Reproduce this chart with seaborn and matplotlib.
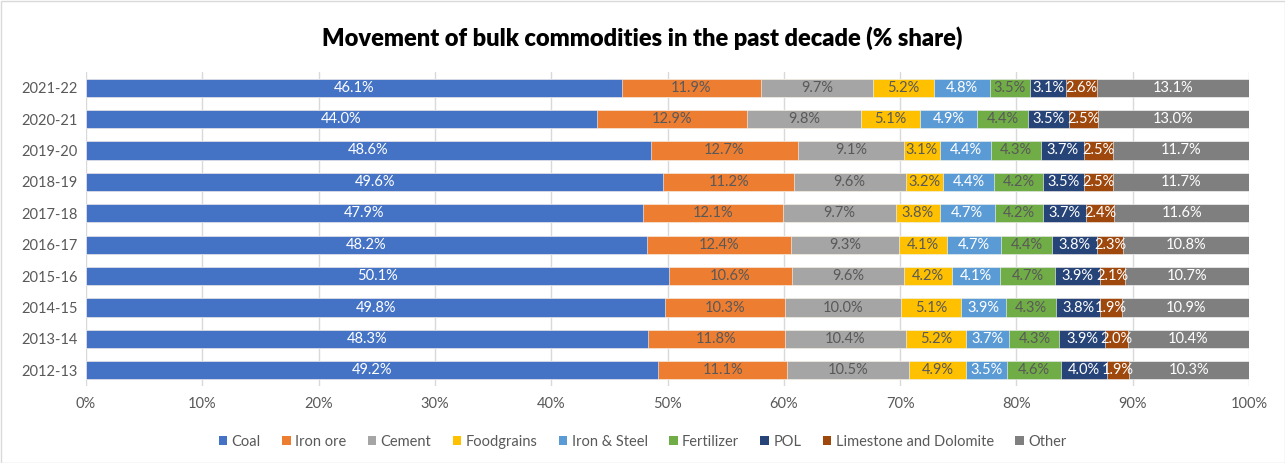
import numpy as np
import pandas as pd
import matplotlib
matplotlib.use("Agg")
import matplotlib.pyplot as plt
import seaborn as sns
from matplotlib.patches import Rectangle, Patch

years = ["2021-22", "2020-21", "2019-20", "2018-19", "2017-18",
         "2016-17", "2015-16", "2014-15", "2013-14", "2012-13"]
series = ["Coal", "Iron ore", "Cement", "Foodgrains", "Iron & Steel",
          "Fertilizer", "POL", "Limestone and Dolomite", "Other"]
coal = [46.1, 44.0, 48.6, 49.6, 47.9, 48.2, 50.1, 49.8, 48.3, 49.2]
iron_ore = [11.9, 12.9, 12.7, 11.2, 12.1, 12.4, 10.6, 10.3, 11.8, 11.1]
cement = [9.7, 9.8, 9.1, 9.6, 9.7, 9.3, 9.6, 10.0, 10.4, 10.5]
foodgrains = [5.2, 5.1, 3.1, 3.2, 3.8, 4.1, 4.2, 5.1, 5.2, 4.9]
iron_steel = [4.8, 4.9, 4.4, 4.4, 4.7, 4.7, 4.1, 3.9, 3.7, 3.5]
fertilizer = [3.5, 4.4, 4.3, 4.2, 4.2, 4.4, 4.7, 4.3, 4.3, 4.6]
pol = [3.1, 3.5, 3.7, 3.5, 3.7, 3.8, 3.9, 3.8, 3.9, 4.0]
limestone = [2.6, 2.5, 2.5, 2.5, 2.4, 2.3, 2.1, 1.9, 2.0, 1.9]
other = [13.1, 13.0, 11.7, 11.7, 11.6, 10.8, 10.7, 10.9, 10.4, 10.3]

colors = ["#4472C4", "#ED7D31", "#A5A5A5", "#FFC000", "#5B9BD5",
          "#70AD47", "#264478", "#9E480E", "#7F7F7F"]
label_colors = ["white", "#595959", "#595959", "#595959", "white",
                "#595959", "white", "white", "white"]

values = [coal, iron_ore, cement, foodgrains, iron_steel, fertilizer, pol, limestone, other]
df = pd.DataFrame({s: v for s, v in zip(series, values)}, index=years)
cum = df.cumsum(axis=1)
total = df.sum(axis=1)

sns.set_theme(style="white")
plt.rcParams['font.family'] = ['Lato', 'DejaVu Sans']

fig = plt.figure(figsize=(12.85, 4.63), dpi=100)
ax = fig.add_axes([86/1285, 1 - 386/463, (1249-86)/1285, (386-72)/463])

for i in range(len(series) - 1, -1, -1):
    s = series[i]
    d = pd.DataFrame({"year": years, "end": (cum[s] / total * 100).values})
    sns.barplot(data=d, x="end", y="year", orient="h", color=colors[i],
                width=0.58, ax=ax, saturation=1, order=years,
                edgecolor="white", linewidth=0.4)

for j, y in enumerate(years):
    start = 0
    for i, s in enumerate(series):
        v = df.loc[y, s] / total[y] * 100
        ax.text(start + v / 2, j, f"{df.loc[y, s]:.1f}%", ha="center", va="center",
                fontsize=10.5, color=label_colors[i])
        start += v

ax.set_xlim(0, 100)
ax.set_ylim(len(years) - 0.5, -0.5)
ax.set_xticks(np.arange(0, 101, 10))
ax.set_xticklabels([f"{t}%" for t in range(0, 101, 10)], color="#595959", fontsize=10.5)
ax.tick_params(axis="y", colors="#595959", labelsize=10.5, length=0, pad=6)
ax.tick_params(axis="x", length=0, pad=8)
ax.set_xlabel("")
ax.set_ylabel("")
ax.grid(axis="x", color="#D9D9D9", linewidth=1)
ax.set_axisbelow(True)
for sp in ax.spines.values():
    sp.set_visible(False)

fig.text(0.5, 1 - 38/463, "Movement of bulk commodities in the past decade (% share)",
         ha="center", va="center", fontsize=17, fontweight="heavy", color="black")

handles = [Patch(facecolor=c, edgecolor="none") for c in colors]
fig.legend(handles, series, loc="center", bbox_to_anchor=(0.5, 1 - 442/463), ncol=9,
           frameon=False, fontsize=10.5, handlelength=0.6, handleheight=0.6,
           handletextpad=0.3, columnspacing=1.45, labelcolor="#595959")

fig.patches.append(Rectangle((0.5/1285, 0.5/463), 1 - 1/1285, 1 - 1/463, transform=fig.transFigure,
                             fill=False, edgecolor="#D9D9D9", linewidth=1))

fig.savefig("out.png", dpi=100)
